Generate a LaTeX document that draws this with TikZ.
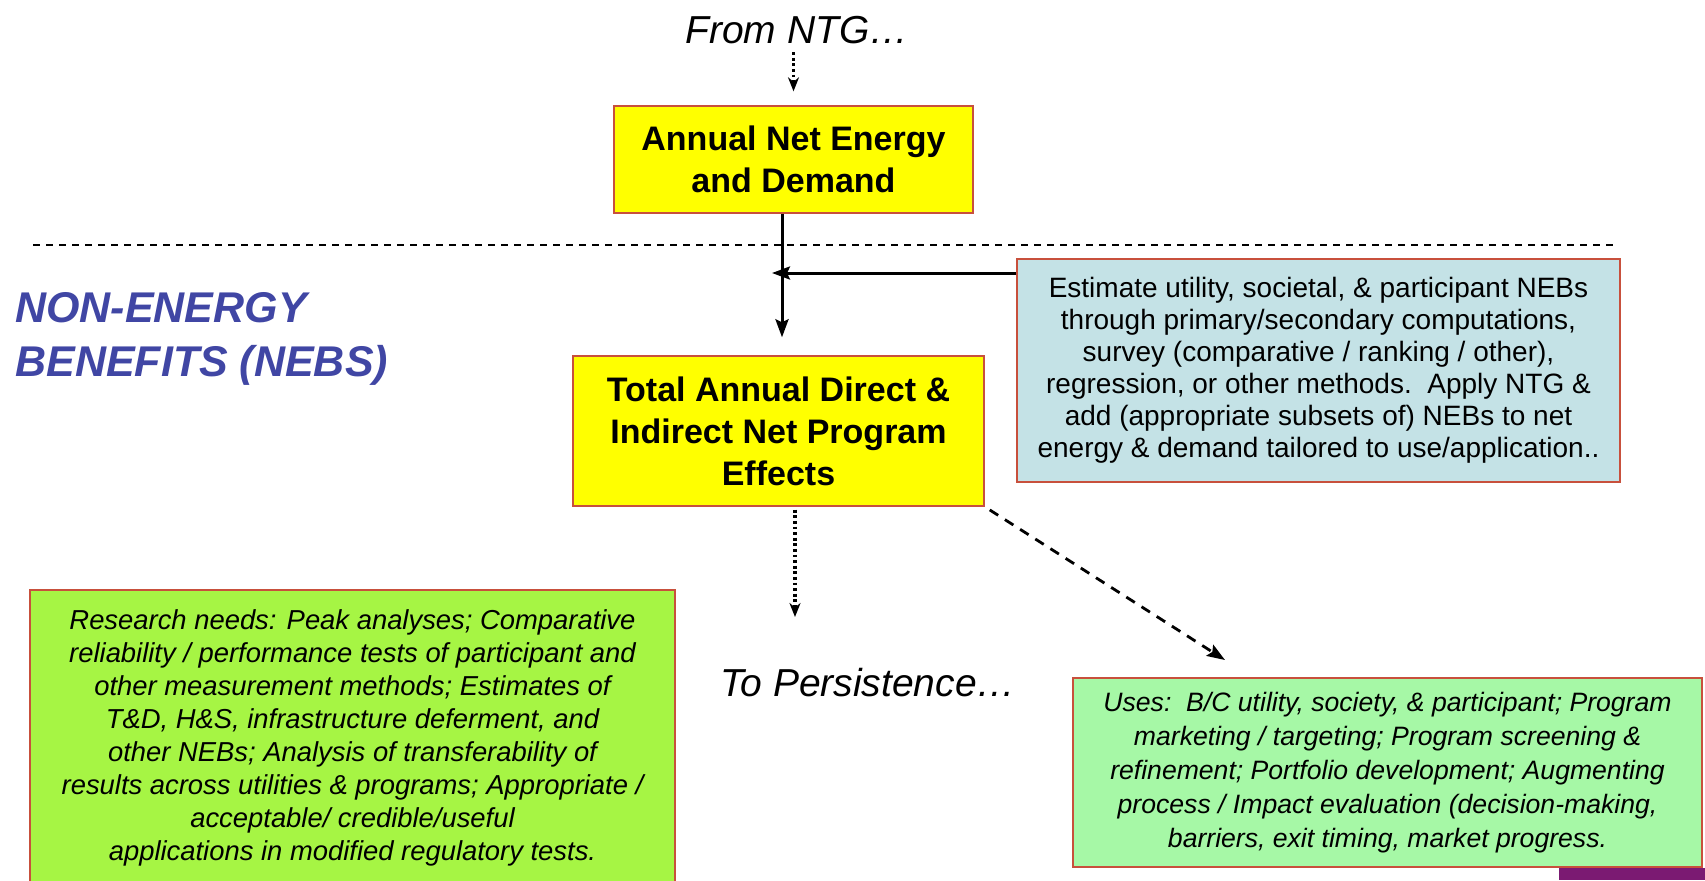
\documentclass[tikz,border=0pt]{standalone}
\usepackage{fontspec}
\setmainfont{Liberation Sans}
\usetikzlibrary{arrows.meta}
\definecolor{boxedge}{HTML}{C8503C}
\definecolor{netyellow}{HTML}{FFFF00}
\definecolor{nebfill}{HTML}{C4E2E6}
\definecolor{needlime}{HTML}{A6F544}
\definecolor{usegreen}{HTML}{A6F8A6}
\definecolor{nebblue}{HTML}{4046A4}
\definecolor{logopurple}{HTML}{7B1A72}

\begin{document}
\begin{tikzpicture}[x=0.5pt,y=-0.5pt,>={Stealth[length=9pt,width=6.5pt,inset=1.5pt]},
    effect/.style={draw=boxedge,line width=0.7pt,fill=netyellow,align=center,inner sep=0pt,
        font=\fontsize{17}{21}\selectfont\bfseries},
    note/.style={draw=boxedge,line width=0.7pt,align=center,inner sep=0pt},
    pointer/.style={font=\fontsize{19.5}{23}\selectfont\itshape,inner sep=0pt},
    flow/.style={line width=1.5pt,->},
    dotflow/.style={line width=1.6pt,dash pattern=on 1.4pt off 1.4pt,
        -{Stealth[length=7pt,width=5.5pt]}},
    dashflow/.style={line width=1.4pt,dash pattern=on 5pt off 4pt,->}]
\useasboundingbox (0,0) rectangle (1705,880);

% upper half
\node[pointer] (ntg) at (797,30) {From NTG\ldots};
\node[effect,minimum width=179.5pt,minimum height=53.5pt] (anne) at (793.5,159.5)
    {Annual Net Energy\\and Demand};
\draw[line width=0.6pt,dash pattern=on 3.5pt off 3pt] (33,245) -- (1617,245);

% lower half
\node[anchor=west,align=left,text=nebblue,inner sep=0pt,
    font=\fontsize{21.5}{27}\selectfont\bfseries\itshape] (nebs) at (15,339)
    {NON-ENERGY\\BENEFITS (NEBS)};
\node[effect,minimum width=205.5pt,minimum height=75pt] (total) at (778.5,431)
    {Total Annual Direct \&\\Indirect Net Program\\Effects};
\node[note,fill=nebfill,minimum width=301.5pt,minimum height=111.5pt,
    font=\fontsize{14}{16}\selectfont] (est) at (1318.5,370.5)
    {Estimate utility, societal, \& participant NEBs\\
     through primary/secondary computations,\\
     survey (comparative / ranking / other),\\
     regression, or other methods.\ \ Apply NTG \&\\
     add (appropriate subsets of) NEBs to net\\
     energy \& demand tailored to use/application..};
\node[note,fill=needlime,minimum width=322.5pt,minimum height=148pt,
    font=\fontsize{13.7}{16.5}\selectfont\itshape] (needs) at (352.5,738)
    {Research needs: Peak analyses; Comparative\\
     reliability / performance tests of participant and\\
     other measurement methods; Estimates of\\
     T\&D, H\&S, infrastructure deferment, and\\
     other NEBs; Analysis of transferability of\\
     results across utilities \& programs; Appropriate /\\
     acceptable/ credible/useful\\
     applications in modified regulatory tests.};
\node[pointer] (persist) at (868,683) {To Persistence\ldots};
\node[note,fill=usegreen,minimum width=314.5pt,minimum height=94.5pt,
    font=\fontsize{13.3}{17}\selectfont\itshape] (uses) at (1387.5,772.5)
    {Uses:\ \ B/C utility, society, \& participant; Program\\
     marketing / targeting; Program screening \&\\
     refinement; Portfolio development; Augmenting\\
     process / Impact evaluation (decision-making,\\
     barriers, exit timing, market progress.};
\fill[logopurple] (1559,868) rectangle (1705,880);

% connectors
\coordinate (jn) at (782,273);
\coordinate (persistin) at (795,617);
\coordinate (usetip) at (1225,660);
\draw[dotflow,shorten <=4pt,shorten >=7pt] (ntg.south -| anne.north) -- (anne.north);
\draw[flow,shorten >=9pt] (anne.south -| jn) -- (jn |- total.north);
\draw[flow] (est.west |- jn) -- ([xshift=-5pt]jn);
\draw[dotflow,shorten <=1.5pt] (total.south -| persistin) -- (persistin);
\draw[dashflow,shorten <=3pt] (total.south east) -- (usetip);
\end{tikzpicture}
\end{document}
